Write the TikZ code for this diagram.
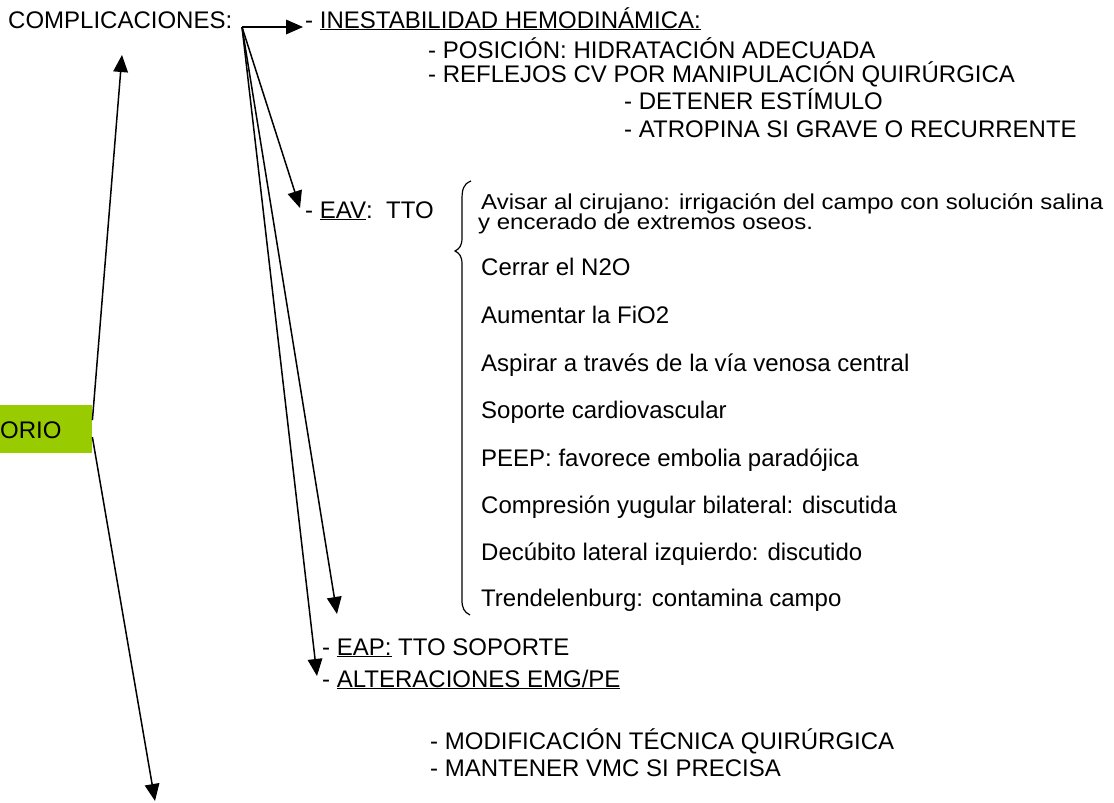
\documentclass[tikz,border=0pt]{standalone}
\usepackage{fontspec}
\setmainfont{Liberation Sans}
\usetikzlibrary{decorations.markings}
\definecolor{lime}{RGB}{153,204,0}
\tikzset{
  txt/.style={anchor=base west, inner sep=0pt, font=\fontsize{24}{28}\selectfont},
  arr/.style={line width=1.5pt, shorten >=10pt, postaction={decorate},
    decoration={markings, mark=at position 1 with {\fill[black] (0pt,0pt) -- (-17pt,7.5pt) -- (-17pt,-7.5pt) -- cycle;}}},
}
\newcommand{\ul}[1]{\underline{#1}}
\newcommand{\squash}[1]{\scalebox{1}[0.9]{#1}}
\begin{document}
\begin{tikzpicture}[x=1pt,y=-1pt]
\useasboundingbox (0,0) rectangle (1114,803);
% green box
\node[fill=lime, inner sep=0pt, minimum width=92pt, minimum height=48pt, anchor=north west] (box) at (0,405) {};
\node[txt] (orio) at (0,438) {ORIO};
% texts
\node[txt] (comp) at (8,28) {COMPLICACIONES:};
\node[txt] (ines) at (305,28) {- \ul{INESTABILIDAD HEMODINÁMICA:}};
\node[txt] (pos) at (428,58) {- POSICIÓN: HIDRATACIÓN ADECUADA};
\node[txt] (refl) at (428,82) {- REFLEJOS CV POR MANIPULACIÓN QUIRÚRGICA};
\node[txt] (det) at (624,109) {- DETENER ESTÍMULO};
\node[txt] (atr) at (624,137) {- ATROPINA SI GRAVE O RECURRENTE};
\node[txt] (eav) at (305,218) {- \ul{EAV}:\ \ TTO};
\node[txt] (l1) at (481,209) {\squash{Avisar al cirujano: irrigación del campo con solución salina}};
\node[txt] (l1b) at (478,229) {\squash{y encerado de extremos oseos.}};
\node[txt] (l2) at (481,275) {Cerrar el N2O};
\node[txt] (l3) at (481,323) {Aumentar la FiO2};
\node[txt] (l4) at (481,371) {Aspirar a través de la vía venosa central};
\node[txt] (l5) at (481,418) {Soporte cardiovascular};
\node[txt] (l6) at (481,466) {PEEP: favorece embolia paradójica};
\node[txt] (l7) at (481,513) {Compresión yugular bilateral: discutida};
\node[txt] (l8) at (481,560) {Decúbito lateral izquierdo: discutido};
\node[txt] (l9) at (481,606) {Trendelenburg: contamina campo};
\node[txt] (eap) at (322,655) {- \ul{EAP:} TTO SOPORTE};
\node[txt] (alt) at (322,687) {- \ul{ALTERACIONES EMG/PE}};
\node[txt] (mod) at (430,749) {- MODIFICACIÓN TÉCNICA QUIRÚRGICA};
\node[txt] (man) at (430,776) {- MANTENER VMC SI PRECISA};
% brace
\draw[line width=1.2pt] (471,181) .. controls (463,184) and (462,190) .. (462,200)
  -- (462,238) .. controls (462,246) and (459,249) .. (455,251)
  .. controls (459,253) and (462,256) .. (462,264)
  -- (462,600) .. controls (462,608) and (464,612) .. (470,615);
% arrows
\coordinate (o) at (242,27);
\coordinate (tcomp) at (122,55);
\coordinate (tbot) at (155,801);
\coordinate (tines) at (303,27);
\coordinate (teav) at (300,208);
\coordinate (ttre) at (337,614);
\coordinate (talt) at (317,676);
\draw[arr] ([yshift=9pt]box.east) -- (tcomp);
\draw[arr] ([yshift=-8pt]box.east) -- (tbot);
\draw[arr] (o) -- (tines);
\draw[arr] (o) -- (teav);
\draw[arr] (o) -- (ttre);
\draw[arr] (o) -- (talt);
\end{tikzpicture}
\end{document}
